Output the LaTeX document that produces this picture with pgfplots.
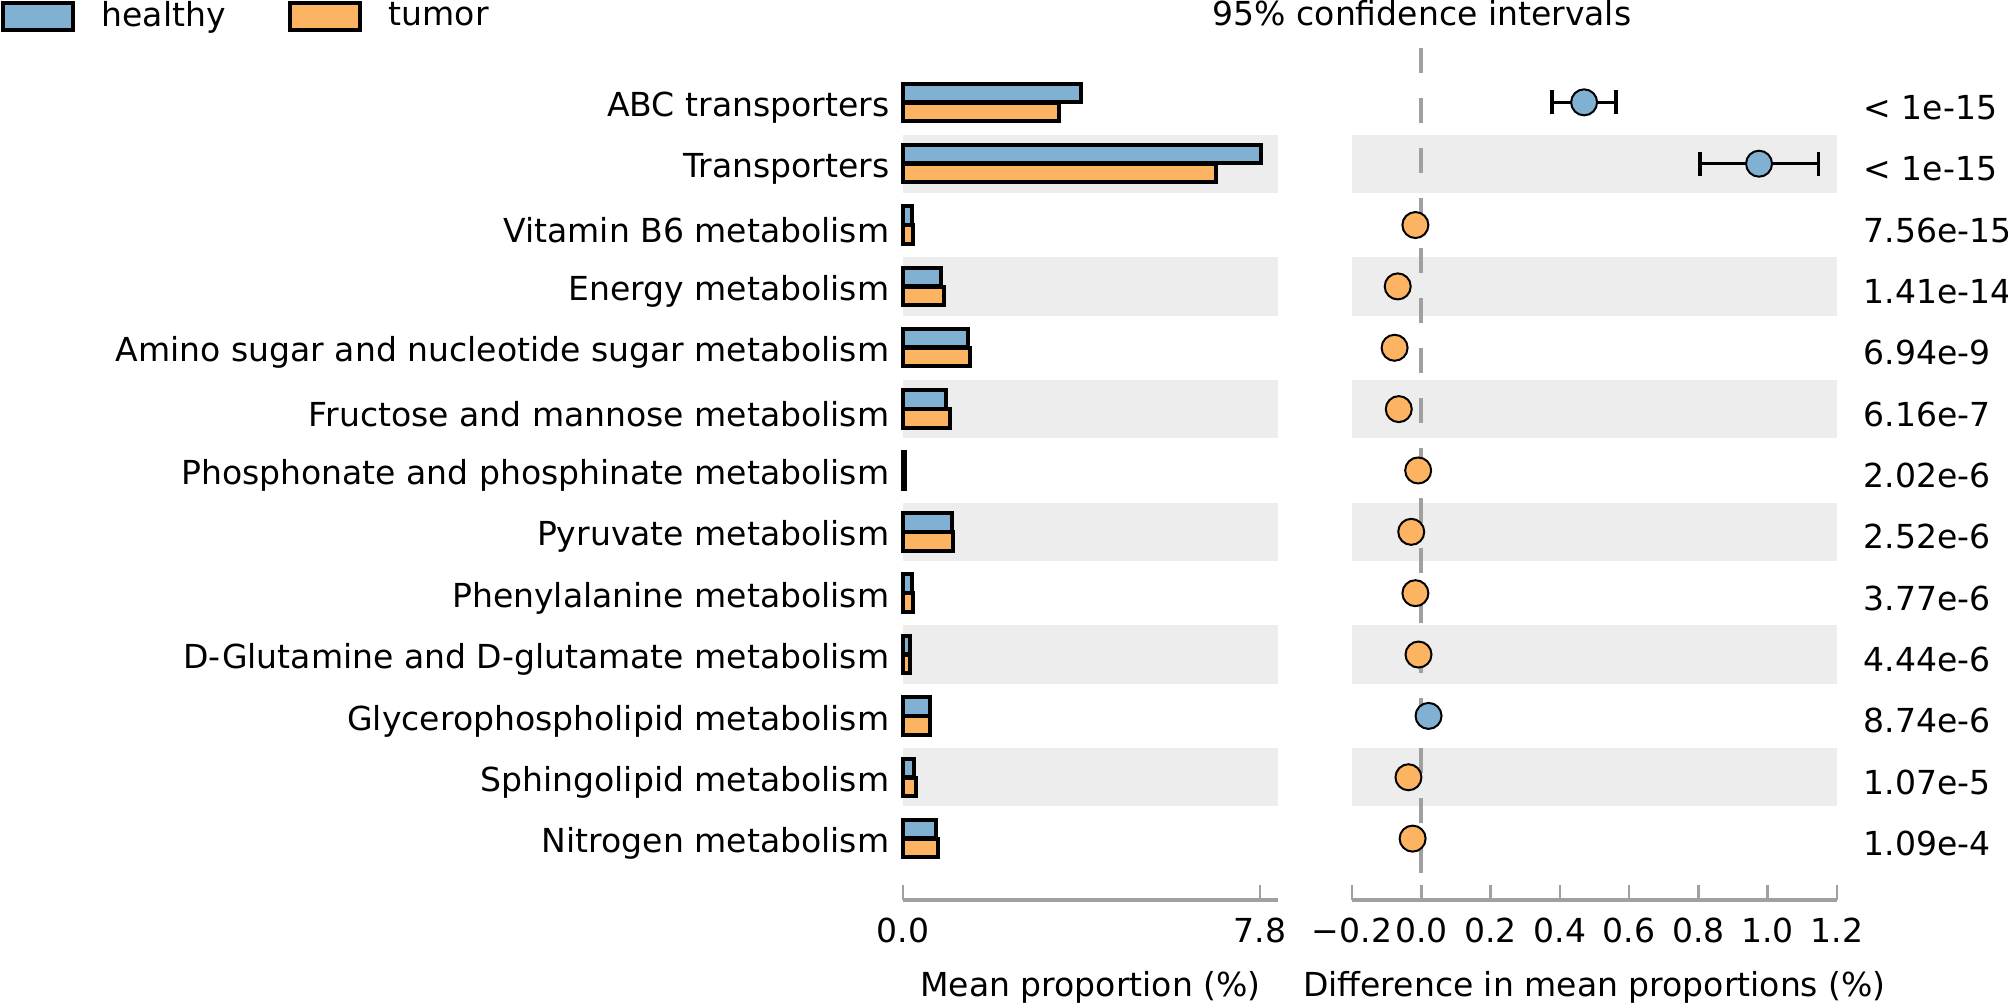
\documentclass[border=0pt]{standalone}
\usepackage{fontspec}
\setmainfont{DejaVu Sans}
\usepackage{pgfplots}
\pgfplotsset{compat=1.18}

\definecolor{healthy}{HTML}{80B1D3}
\definecolor{tumor}{HTML}{FDB462}
\definecolor{band}{HTML}{EDEDED}
\definecolor{axisgray}{HTML}{A0A0A0}

\pgfplotsset{
  panel/.style={
    scale only axis, height=85.9mm,
    ymin=-1, ymax=13, enlargelimits=false,
    axis x line*=bottom,
    x axis line style={axisgray, line width=0.33mm},
    xtick style={axisgray, line width=0.25mm},
    tick align=inside, major tick length=1.5mm,
    ytick={0,...,12},
    y axis line style={draw=none},
    ytick style={draw=none},
    xticklabel style={inner sep=0pt, anchor=base, yshift=-4.3mm},
    xlabel style={inner sep=0pt, anchor=base, at={(axis description cs:0.5,0)}, yshift=-9.7mm},
    clip=false,
  },
  barleg/.style={legend image code/.code={\draw[##1, line width=0.4mm] (0mm,-1.35mm) rectangle (7mm,1.35mm);}},
}

\begin{document}
\begin{tikzpicture}[font=\fontsize{9.4}{11.3}\selectfont]
\useasboundingbox (0,0) rectangle (200.8mm,100.3mm);

% left panel: mean proportions
\begin{axis}[panel, name=left, at={(90.3mm,10.3mm)}, anchor=south west,
  width=37.5mm, xmin=0, xmax=8.19,
  axis y line*=left,
  xtick={0,7.8}, xticklabels={0.0,7.8},
  yticklabels={Nitrogen metabolism, Sphingolipid metabolism, Glycerophospholipid metabolism,
    D-Glutamine and D-glutamate metabolism, Phenylalanine metabolism, Pyruvate metabolism,
    Phosphonate and phosphinate metabolism, Fructose and mannose metabolism,
    Amino sugar and nucleotide sugar metabolism, Energy metabolism, Vitamin B6 metabolism,
    Transporters, ABC transporters},
  yticklabel style={inner sep=0pt, anchor=east, xshift=0.2mm, yshift=-0.5mm},
  xlabel={Mean proportion (\%)},
  xbar, bar width=0.3,
  legend columns=2,
  legend style={at={(axis description cs:-2.408,1.028)}, anchor=west, draw=none, fill=none,
    inner sep=0pt, nodes={inner sep=0pt},
    /tikz/every odd column/.append style={column sep=2.7mm},
    /tikz/every even column/.append style={column sep=6.2mm}},
]
\fill[band] (axis cs:0,10.525) rectangle (axis cs:8.19,11.475);
\fill[band] (axis cs:0,8.525) rectangle (axis cs:8.19,9.475);
\fill[band] (axis cs:0,6.525) rectangle (axis cs:8.19,7.475);
\fill[band] (axis cs:0,4.525) rectangle (axis cs:8.19,5.475);
\fill[band] (axis cs:0,2.525) rectangle (axis cs:8.19,3.475);
\fill[band] (axis cs:0,0.525) rectangle (axis cs:8.19,1.475);

\addplot[draw=black, line width=0.4mm, fill=healthy, bar shift=0.155, barleg] coordinates {
  (3.88,12) (7.81,11) (0.19,10) (0.82,9) (1.41,8) (0.95,7) (0.05,6)
  (1.06,5) (0.19,4) (0.16,3) (0.60,2) (0.23,1) (0.73,0)};
\addplot[draw=black, line width=0.4mm, fill=tumor, bar shift=-0.155, barleg] coordinates {
  (3.40,12) (6.83,11) (0.22,10) (0.90,9) (1.47,8) (1.02,7) (0.05,6)
  (1.09,5) (0.22,4) (0.16,3) (0.58,2) (0.28,1) (0.76,0)};
\legend{healthy, tumor}
\end{axis}

% right panel: difference in mean proportions
\begin{axis}[panel, name=right, at={(135.2mm,10.3mm)}, anchor=south west,
  width=48.5mm, xmin=-0.2, xmax=1.2,
  axis y line*=right,
  xtick={-0.2,0,0.2,0.4,0.6,0.8,1.0,1.2},
  xticklabels={−0.2,0.0,0.2,0.4,0.6,0.8,1.0,1.2},
  yticklabels={1.09e-4, 1.07e-5, 8.74e-6, 4.44e-6, 3.77e-6, 2.52e-6, 2.02e-6,
    6.16e-7, 6.94e-9, 1.41e-14, 7.56e-15, < 1e-15, < 1e-15},
  yticklabel style={inner sep=0pt, anchor=west, xshift=2.6mm, yshift=-0.5mm},
  xlabel={Difference in mean proportions (\%)},
  title={95\% confidence intervals},
  title style={inner sep=0pt, anchor=base, at={(axis description cs:0.1443,1)}, yshift=-0.6mm},
]
\fill[band] (axis cs:-0.2,10.525) rectangle (axis cs:1.2,11.475);
\fill[band] (axis cs:-0.2,8.525) rectangle (axis cs:1.2,9.475);
\fill[band] (axis cs:-0.2,6.525) rectangle (axis cs:1.2,7.475);
\fill[band] (axis cs:-0.2,4.525) rectangle (axis cs:1.2,5.475);
\fill[band] (axis cs:-0.2,2.525) rectangle (axis cs:1.2,3.475);
\fill[band] (axis cs:-0.2,0.525) rectangle (axis cs:1.2,1.475);

\addplot[axisgray, line width=0.4mm, dash pattern=on 2.5mm off 2.5mm, dash phase=4.3mm]
  coordinates {(0,13) (0,-1)};

\addplot[only marks, mark=*, mark size=1.3mm,
  mark options={fill=healthy, draw=black, line width=0.2mm},
  error bars/.cd, x dir=both, x explicit, error mark=|,
  error bar style={black, line width=0.35mm},
  error mark options={black, line width=0.35mm, mark size=1.2mm}]
  coordinates {(0.470,12) +- (0.092,0) (0.975,11) +- (0.171,0)};
\addplot[only marks, mark=*, mark size=1.3mm,
  mark options={fill=healthy, draw=black, line width=0.2mm}]
  coordinates {(0.021,2)};
\addplot[only marks, mark=*, mark size=1.3mm,
  mark options={fill=tumor, draw=black, line width=0.2mm}]
  coordinates {(-0.017,10) (-0.068,9) (-0.077,8) (-0.065,7) (-0.009,6)
    (-0.029,5) (-0.017,4) (-0.008,3) (-0.037,1) (-0.025,0)};
\end{axis}
\end{tikzpicture}
\end{document}
